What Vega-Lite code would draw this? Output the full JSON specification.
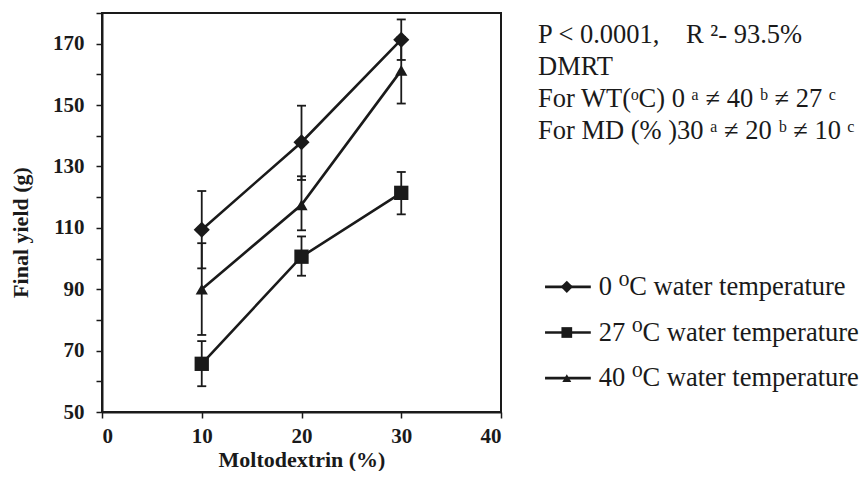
{
  "$schema": "https://vega.github.io/schema/vega-lite/v6.json",
  "background": "white",
  "padding": {"left": 8, "top": 1, "right": 0, "bottom": 0},
  "config": {
    "font": "Liberation Serif",
    "view": {"stroke": "#1a1a1a", "strokeWidth": 2},
    "axis": {"domainColor": "#1a1a1a", "tickColor": "#1a1a1a", "labelColor": "#1a1a1a", "titleColor": "#1a1a1a", "grid": false, "labelFont": "Liberation Serif", "titleFont": "Liberation Serif"},
    "axisY": {
      "values": [50, 54, 58, 62, 66, 70, 74, 78, 82, 86, 90, 94, 98, 102, 106, 110, 114, 118, 122, 126, 130, 134, 138, 142, 146, 150, 154, 158, 162, 166, 170, 174, 178],
      "labelExpr": "datum.value % 20 == 10 ? datum.label : ''",
      "labelOverlap": false,
      "labelSeparation": -60,
      "tickSize": 6, "tickWidth": 1.5, "domainWidth": 2,
      "labelPadding": 12, "labelFontSize": 21, "labelFontWeight": "bold",
      "titleFontSize": 22, "titleFontWeight": "bold", "titlePadding": 20,
      "titleY": 219
    },
    "text": {"font": "Liberation Serif"}
  },
  "datasets": {
    "series": [
      {"wt": "0", "md": 10, "yield": 109.4, "lo": 96.8, "hi": 122.0},
      {"wt": "0", "md": 20, "yield": 137.9, "lo": 125.6, "hi": 149.8},
      {"wt": "0", "md": 30, "yield": 171.3, "lo": 164.7, "hi": 177.9},
      {"wt": "27", "md": 10, "yield": 65.7, "lo": 58.4, "hi": 73.1},
      {"wt": "27", "md": 20, "yield": 100.6, "lo": 94.4, "hi": 107.2},
      {"wt": "27", "md": 30, "yield": 121.4, "lo": 114.4, "hi": 128.2},
      {"wt": "40", "md": 10, "yield": 90.0, "lo": 75.1, "hi": 105.0},
      {"wt": "40", "md": 20, "yield": 117.5, "lo": 109.2, "hi": 126.8},
      {"wt": "40", "md": 30, "yield": 161.3, "lo": 150.5, "hi": 172.2}
    ],
    "notes": [
      {"text": "P < 0.0001,\u00a0\u00a0\u00a0\u00a0R \u00b2- 93.5%"},
      {"text": "DMRT"},
      {"text": "For WT(\u1d52C) 0 \u1d43 \u2260 40 \u1d47 \u2260 27 \u1d9c"},
      {"text": "For MD (% )30 \u1d43 \u2260 20 \u1d47 \u2260 10 \u1d9c"}
    ],
    "legend": [
      {"wt": "0", "label": "0 \u2070C water temperature"},
      {"wt": "27", "label": "27 \u2070C water temperature"},
      {"wt": "40", "label": "40 \u2070C water temperature"}
    ]
  },
  "resolve": {"scale": {"shape": "independent", "size": "independent"}},
  "spacing": 35,
  "hconcat": [
    {
      "width": 399,
      "height": 399,
      "data": {"name": "series"},
      "encoding": {
        "x": {
          "field": "md", "type": "quantitative",
          "scale": {"domain": [0, 40], "nice": false, "zero": false},
          "axis": {
            "title": "Moltodextrin (%)", "values": [0, 10, 20, 30, 40],
            "tickSize": 6, "tickWidth": 1.5, "domainWidth": 2,
            "labelPadding": 7, "labelFontSize": 21, "labelFontWeight": "bold",
            "titleFontSize": 22, "titleFontWeight": "bold", "titlePadding": 3
          }
        }
      },
      "layer": [
        {
          "mark": {"type": "line", "stroke": "#1a1a1a", "strokeWidth": 2.6},
          "encoding": {
            "y": {
              "field": "yield", "type": "quantitative",
              "scale": {"domain": [50, 180], "nice": false, "zero": false},
              "axis": {"title": "Final yield (g)", "labelOverlap": false}
            },
            "detail": {"field": "wt"}
          }
        },
        {
          "mark": {"type": "rule", "stroke": "#1a1a1a", "strokeWidth": 1.8},
          "encoding": {
            "y": {"field": "lo", "type": "quantitative", "axis": {"title": "Final yield (g)", "labelOverlap": false}},
            "y2": {"field": "hi"}
          }
        },
        {
          "mark": {"type": "tick", "orient": "horizontal", "size": 9, "thickness": 1.8, "color": "#1a1a1a", "opacity": 1},
          "encoding": {"y": {"field": "lo", "type": "quantitative", "axis": {"title": "Final yield (g)", "labelOverlap": false}}}
        },
        {
          "mark": {"type": "tick", "orient": "horizontal", "size": 9, "thickness": 1.8, "color": "#1a1a1a", "opacity": 1},
          "encoding": {"y": {"field": "hi", "type": "quantitative", "axis": {"title": "Final yield (g)", "labelOverlap": false}}}
        },
        {
          "mark": {"type": "point", "filled": true, "opacity": 1, "color": "#1a1a1a"},
          "encoding": {
            "y": {"field": "yield", "type": "quantitative", "axis": {"title": "Final yield (g)", "labelOverlap": false}},
            "shape": {"field": "wt", "type": "nominal", "scale": {"domain": ["0", "27", "40"], "range": ["diamond", "square", "triangle-up"]}, "legend": null},
            "size": {"field": "wt", "type": "nominal", "scale": {"domain": ["0", "27", "40"], "range": [260, 150, 420]}, "legend": null}
          }
        }
      ]
    },
    {
      "spacing": 111,
      "vconcat": [
        {
          "width": 320,
          "height": 140,
          "view": {"stroke": null},
          "data": {"name": "notes"},
          "mark": {"type": "text", "align": "left", "baseline": "middle", "fontSize": 26.5, "font": "Liberation Serif, DejaVu Serif", "color": "#1a1a1a"},
          "encoding": {
            "x": {"datum": 0, "type": "quantitative", "scale": {"domain": [0, 1]}, "axis": null},
            "y": {"field": "text", "type": "nominal", "sort": null, "scale": {"type": "point", "padding": 0.68}, "axis": null},
            "text": {"field": "text"}
          }
        },
        {
          "width": 320,
          "height": 137,
          "view": {"stroke": null},
          "data": {"name": "legend"},
          "encoding": {
            "y": {"field": "label", "type": "nominal", "sort": null, "scale": {"type": "point", "padding": 0.5}, "axis": null}
          },
          "layer": [
            {
              "mark": {"type": "rule", "stroke": "#1a1a1a", "strokeWidth": 2.6},
              "encoding": {
                "x": {"datum": 0.022, "type": "quantitative", "scale": {"domain": [0, 1]}, "axis": null},
                "x2": {"datum": 0.165}
              }
            },
            {
              "mark": {"type": "point", "filled": true, "opacity": 1, "color": "#1a1a1a"},
              "encoding": {
                "x": {"datum": 0.09, "type": "quantitative"},
                "shape": {"field": "wt", "type": "nominal", "scale": {"domain": ["0", "27", "40"], "range": ["diamond", "square", "triangle-up"]}, "legend": null},
                "size": {"field": "wt", "type": "nominal", "scale": {"domain": ["0", "27", "40"], "range": [150, 80, 280]}, "legend": null}
              }
            },
            {
              "mark": {"type": "text", "align": "left", "baseline": "middle", "fontSize": 26.5, "font": "Liberation Serif, DejaVu Serif", "color": "#1a1a1a"},
              "encoding": {
                "x": {"datum": 0.19, "type": "quantitative"},
                "text": {"field": "label"}
              }
            }
          ]
        }
      ]
    }
  ]
}
